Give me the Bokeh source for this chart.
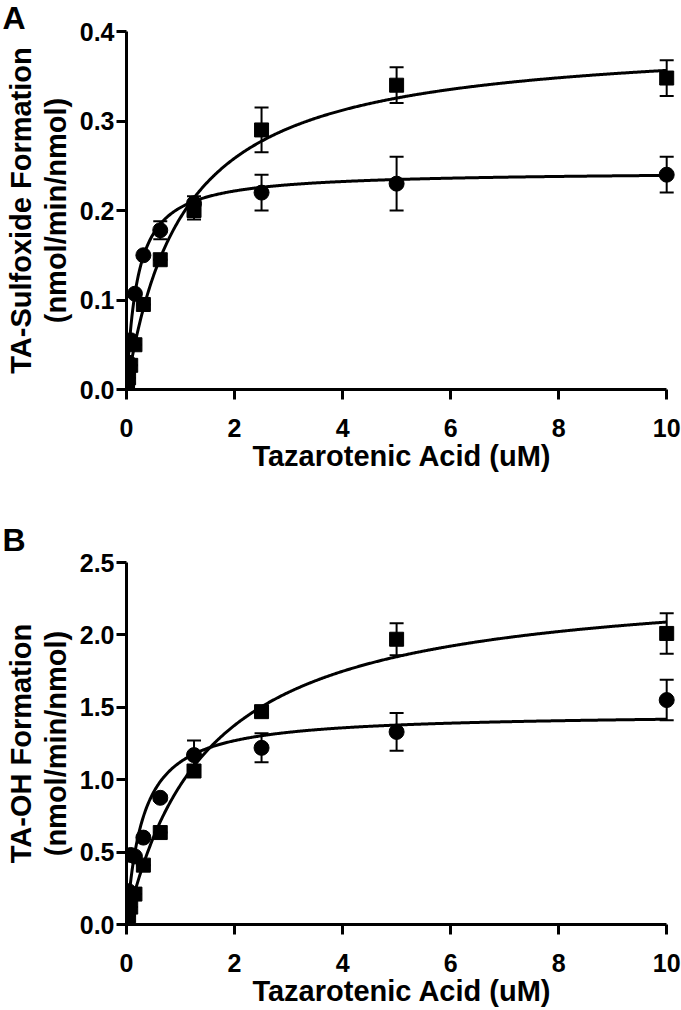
import numpy as np
from bokeh.plotting import figure
from bokeh.layouts import column
from bokeh.models import (ColumnDataSource, Whisker, TeeHead, FixedTicker,
                          NumeralTickFormatter, Range1d, Title)
from bokeh.embed import file_html
from bokeh.resources import INLINE

# ---------------- data ----------------
conc = [0.0098, 0.0195, 0.039, 0.078, 0.156, 0.3125, 0.625, 1.25, 2.5, 5, 10]

# Panel A: TA-sulfoxide formation
a_circle = [0.008, 0.018, 0.030, 0.055, 0.107, 0.150, 0.178, 0.208, 0.220, 0.230, 0.240]
a_circle_err = [0, 0, 0, 0, 0, 0, 0.010, 0.008, 0.020, 0.030, 0.020]
a_square = [0.002, 0.006, 0.013, 0.027, 0.050, 0.095, 0.145, 0.200, 0.290, 0.340, 0.348]
a_square_err = [0, 0, 0, 0, 0, 0, 0, 0.010, 0.025, 0.020, 0.020]

# Panel B: TA-OH formation
b_circle = [0.06, 0.13, 0.23, 0.48, 0.47, 0.60, 0.875, 1.17, 1.22, 1.33, 1.55]
b_circle_err = [0, 0, 0, 0, 0, 0, 0.02, 0.10, 0.10, 0.13, 0.14]
b_square = [0.015, 0.03, 0.06, 0.12, 0.21, 0.41, 0.635, 1.06, 1.47, 1.97, 2.01]
b_square_err = [0, 0, 0, 0, 0, 0, 0, 0.03, 0.02, 0.11, 0.14]

# Michaelis-Menten fit parameters (Vmax, Km)
a_circle_fit = (0.244, 0.20)
a_square_fit = (0.394, 1.05)
b_circle_fit = (1.46, 0.30)
b_square_fit = (2.40, 1.49)

x_ticks = [0, 2, 4, 6, 8, 10]
a_y_ticks = [0.0, 0.1, 0.2, 0.3, 0.4]
b_y_ticks = [0.0, 0.5, 1.0, 1.5, 2.0, 2.5]

x_title = "Tazarotenic Acid (uM)"
a_y_title = "TA-Sulfoxide Formation\n(nmol/min/nmol)"
b_y_title = "TA-OH Formation\n(nmol/min/nmol)"

FONT = "Liberation Sans"


def make_panel(letter, circ, circ_err, sq, sq_err, circ_fit, sq_fit,
               y_ticks, y_max, y_title, height, border_top, border_bottom,
               letter_standoff):
    p = figure(width=681, height=height, output_backend="svg",
               toolbar_location=None, x_range=Range1d(0, 10.2),
               y_range=Range1d(0, y_max),
               min_border_left=126, min_border_right=4,
               min_border_top=border_top, min_border_bottom=border_bottom)
    p.outline_line_color = None
    p.grid.visible = False
    p.background_fill_color = "white"
    p.border_fill_color = "white"

    p.title = Title(text=letter, align="left", offset=-124,
                    standoff=letter_standoff, text_font=FONT,
                    text_font_style="bold", text_font_size="32px",
                    text_color="black")

    for ax in (p.xaxis[0], p.yaxis[0]):
        ax.axis_line_width = 3
        ax.axis_line_color = "black"
        ax.major_tick_line_width = 3
        ax.major_tick_line_color = "black"
        ax.major_tick_out = 10
        ax.major_tick_in = 0
        ax.minor_tick_line_color = None
        ax.major_label_text_font = FONT
        ax.major_label_text_font_style = "bold"
        ax.major_label_text_font_size = "25px"
        ax.major_label_text_color = "black"
        ax.axis_label_text_font = FONT
        ax.axis_label_text_font_style = "bold"
        ax.axis_label_text_font_size = "29px"
        ax.axis_label_text_color = "black"

    p.xaxis[0].ticker = FixedTicker(ticks=x_ticks)
    p.xaxis[0].bounds = (0, 10)
    p.xaxis[0].axis_label = x_title
    p.xaxis[0].major_label_standoff = 19
    p.xaxis[0].axis_label_standoff = 0

    p.yaxis[0].ticker = FixedTicker(ticks=y_ticks)
    p.yaxis[0].formatter = NumeralTickFormatter(format="0.0")
    p.yaxis[0].axis_label = y_title
    p.yaxis[0].major_label_standoff = 2
    p.yaxis[0].axis_label_standoff = 5
    p.yaxis[0].axis_label_text_line_height = 1.1

    # fitted curves
    xs = np.linspace(0, 10, 600)
    for vmax, km in (circ_fit, sq_fit):
        p.line(xs, vmax * xs / (km + xs), line_color="black", line_width=3)

    # error bars
    for vals, errs in ((circ, circ_err), (sq, sq_err)):
        src = ColumnDataSource(dict(
            x=conc,
            upper=[v + e for v, e in zip(vals, errs)],
            lower=[v - e for v, e in zip(vals, errs)]))
        w = Whisker(source=src, base="x", upper="upper", lower="lower",
                    line_width=2, line_color="black",
                    upper_head=TeeHead(size=14, line_width=2, line_color="black"),
                    lower_head=TeeHead(size=14, line_width=2, line_color="black"))
        p.add_layout(w)

    # markers
    p.scatter(conc, circ, marker="circle", size=15, fill_color="black",
              line_color="black")
    p.scatter(conc, sq, marker="square", size=14, fill_color="black",
              line_color="black")
    return p


pA = make_panel("A", a_circle, a_circle_err, a_square, a_square_err,
                a_circle_fit, a_square_fit, a_y_ticks, 0.4, a_y_title,
                height=505, border_top=31, border_bottom=116, letter_standoff=-8)
pB = make_panel("B", b_circle, b_circle_err, b_square, b_square_err,
                b_circle_fit, b_square_fit, b_y_ticks, 2.5, b_y_title,
                height=505, border_top=57, border_bottom=86, letter_standoff=9)

layout = column(pA, pB, spacing=0)
open("out.html", "w").write(file_html(layout, INLINE))
